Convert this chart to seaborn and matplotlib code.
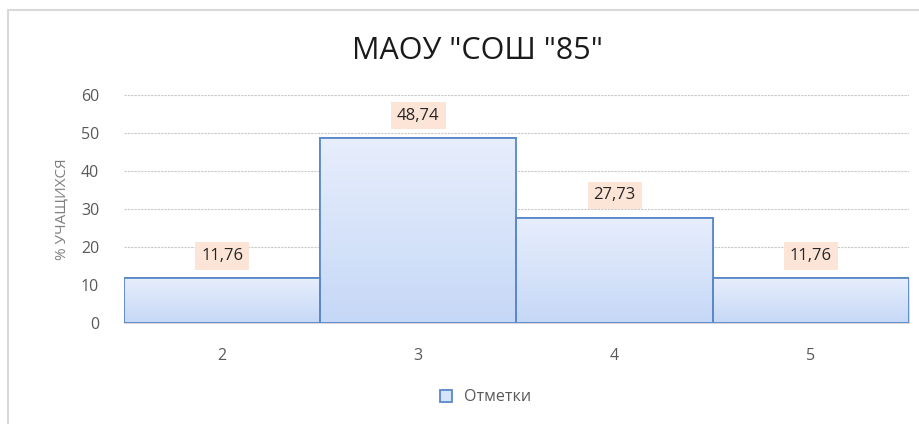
import numpy as np
import pandas as pd
import matplotlib
matplotlib.use('Agg')
import matplotlib.pyplot as plt
from matplotlib.patches import Rectangle
from matplotlib.lines import Line2D
import seaborn as sns

# chart data
grades = ['2', '3', '4', '5']
percents = [11.76, 48.74, 27.73, 11.76]
labels = ['11,76', '48,74', '27,73', '11,76']

sns.set_style('white')
plt.rcParams['font.family'] = ['Open Sans', 'DejaVu Sans']

df = pd.DataFrame({'Отметка': grades, 'Процент': percents})

fig = plt.figure(figsize=(9.19, 4.24), dpi=100)
ax = fig.add_axes([0.135, 0.238, 0.854, 0.538])

sns.barplot(data=df, x='Отметка', y='Процент', width=1.0, color='#d6e3f9',
            edgecolor='#5a88c8', linewidth=1.3, ax=ax, zorder=3)

# vertical gradient inside the bars
grad = np.linspace(0, 1, 100).reshape(-1, 1)
cmap = matplotlib.colors.LinearSegmentedColormap.from_list('g', ['#e7eefc', '#c6d8f7'])
for p in ax.patches:
    x0, y0 = p.get_x(), p.get_y()
    w, h = p.get_width(), p.get_height()
    im = ax.imshow(grad, cmap=cmap, aspect='auto', extent=[x0, x0 + w, y0, y0 + h],
                   origin='upper', zorder=3.5)
    im.set_clip_path(p)
    edge = Rectangle((x0, y0), w, h, fill=False, edgecolor='#5a88c8', linewidth=1.3, zorder=4)
    ax.add_patch(edge)

for i, (v, t) in enumerate(zip(percents, labels)):
    ax.annotate(t, (i, v), xytext=(0, 16), textcoords='offset points',
                ha='center', va='center', fontsize=12, color='#262626', zorder=5,
                bbox=dict(boxstyle='square,pad=0.35', facecolor='#fce4d6', edgecolor='none'))

ax.set_xlim(-0.5, 3.5)
ax.set_ylim(0, 60)
ax.set_yticks(range(0, 61, 10))
ax.yaxis.grid(True, linestyle=(0, (2, 1)), color='#c8c8c8', linewidth=0.8, zorder=0)
ax.set_axisbelow(True)
for s in ['top', 'right', 'left']:
    ax.spines[s].set_visible(False)
ax.spines['bottom'].set_color('#d9d9d9')
ax.tick_params(axis='both', length=0, labelsize=11.5, colors='#595959')
ax.tick_params(axis='x', pad=18)
ax.tick_params(axis='y', pad=18)
ax.set_xlabel('')
ax.set_ylabel('% УЧАЩИХСЯ', fontsize=11, color='#7f7f7f', labelpad=8)

fig.suptitle('МАОУ "СОШ "85"', x=0.52, y=0.915, fontsize=22, color='#1a1a1a')

handle = Line2D([], [], marker='s', linestyle='none', markersize=9,
                markerfacecolor='#d6e3f9', markeredgecolor='#5a88c8', markeredgewidth=1.3)
fig.legend([handle], ['Отметки'], loc='center', bbox_to_anchor=(0.523, 0.063),
           frameon=False, fontsize=11.5, labelcolor='#595959', handletextpad=0.1)

# outer chart frame
fig.patches.append(Rectangle((8 / 919, -0.1), 1.2, 1.1 - 10 / 424 + 0.001, transform=fig.transFigure,
                             fill=False, edgecolor='#d9d9d9', linewidth=1.5))

fig.savefig('out.png', dpi=100)
